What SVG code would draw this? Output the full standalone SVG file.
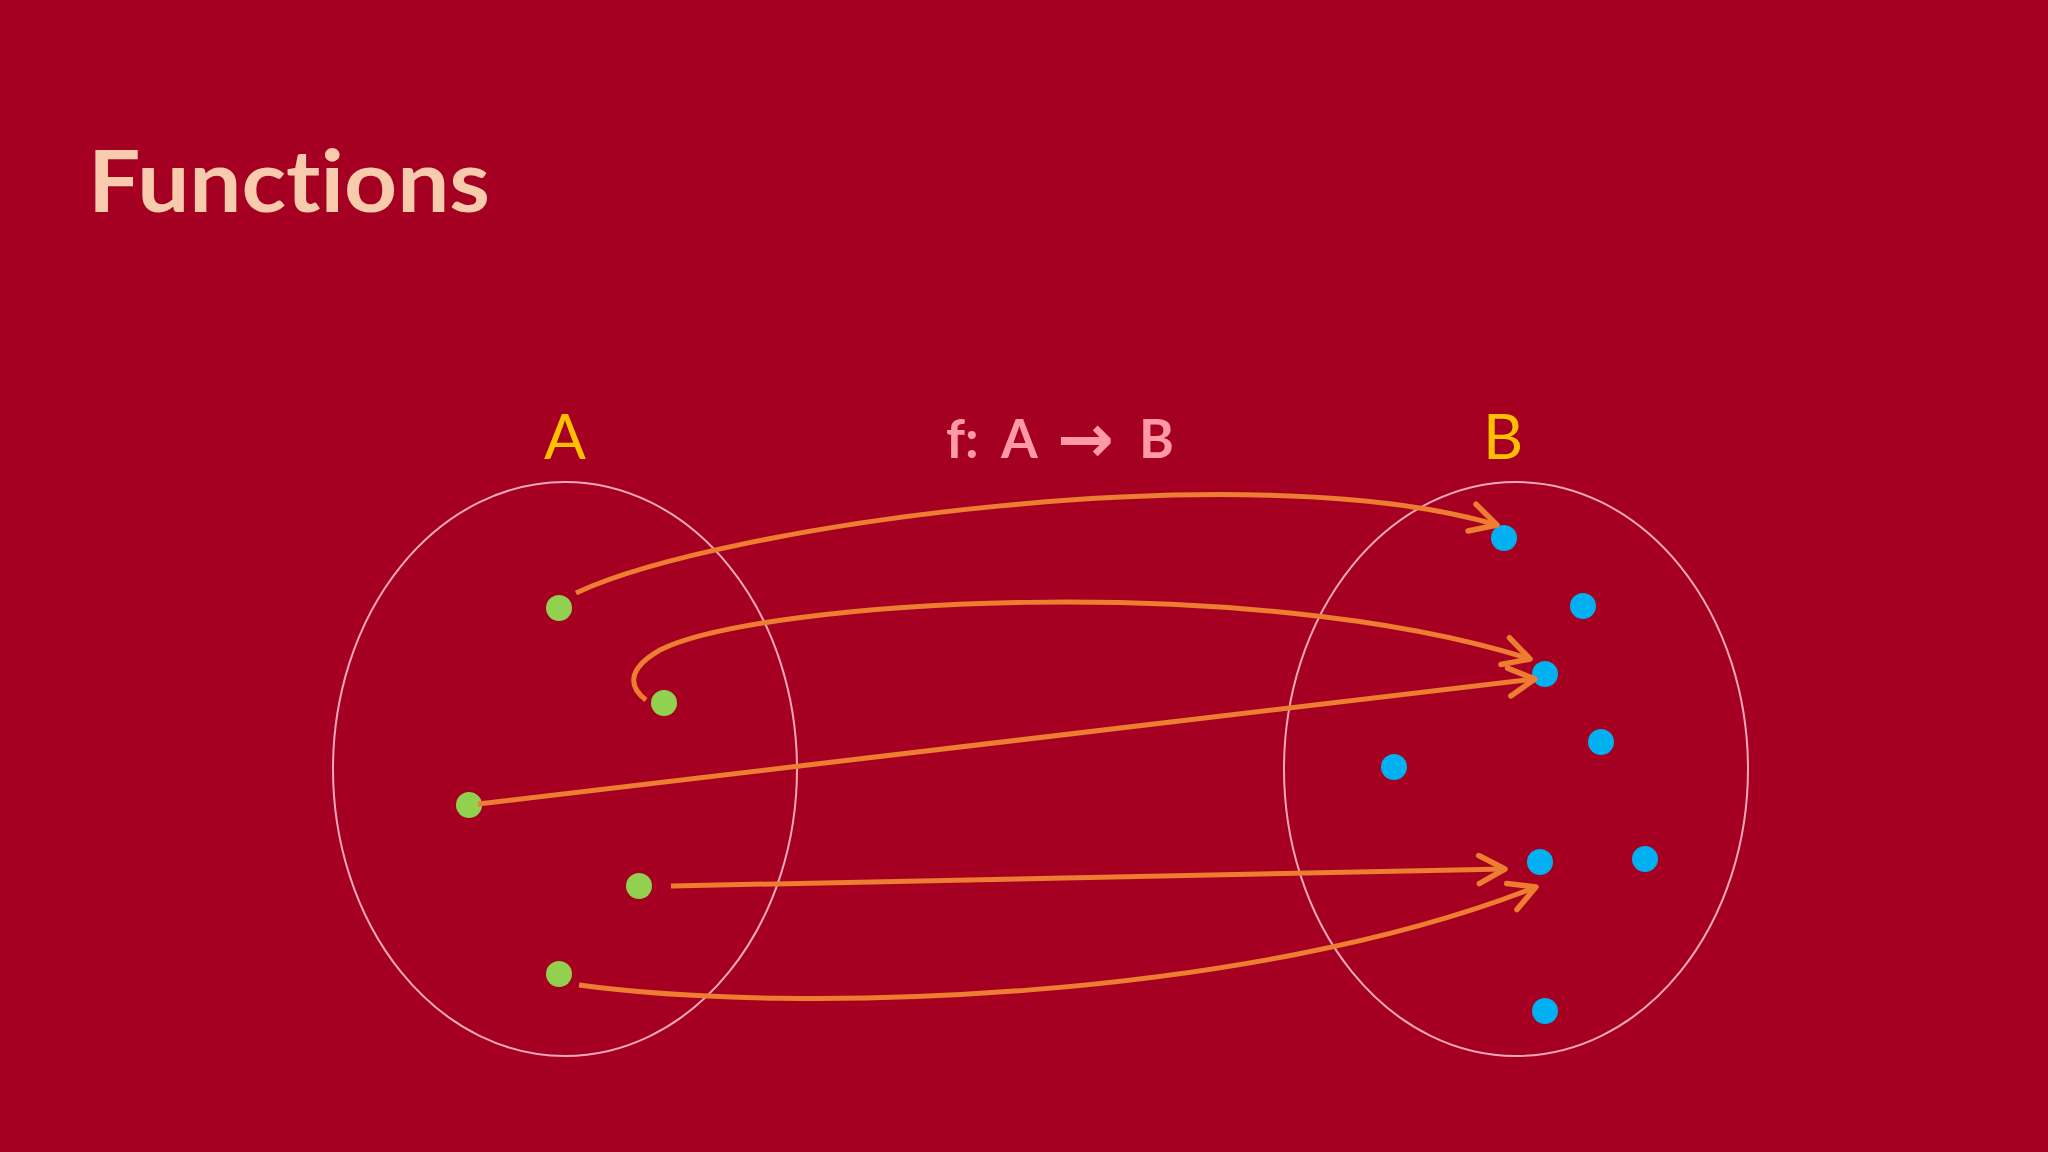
<svg xmlns="http://www.w3.org/2000/svg" width="2048" height="1152" viewBox="0 0 2048 1152">
<style>
.set{fill:none;stroke:#F4A7B9;stroke-width:2}
.a{fill:#92D050}
.b{fill:#00B0F0}
.conn{fill:none;stroke:#ED7D31;stroke-width:5;stroke-linecap:butt}
.lbl{font-family:Lato,"Open Sans","Liberation Sans",sans-serif;fill:#FFC000;font-size:62px;text-anchor:middle}
.title{font-family:Lato,"Open Sans",sans-serif;font-weight:bold;font-size:86px;fill:#F8CBAD;font-variant-ligatures:none;font-feature-settings:"liga" 0}
.fn{font-family:Lato,"Open Sans",sans-serif;font-weight:bold;font-size:53px;fill:#FF99A6}
</style>
<defs>
<marker id="arr" markerUnits="userSpaceOnUse" markerWidth="60" markerHeight="60" viewBox="-40 -30 60 60" refX="0" refY="0" orient="auto" overflow="visible">
<path d="M-26,-14 L0,0 L-26,14" fill="none" stroke="#ED7D31" stroke-width="5.5" stroke-linecap="round" stroke-linejoin="round"/>
</marker>
</defs>
<rect width="2048" height="1152" fill="#A50021"/>
<text class="title" x="88" y="212" textLength="402" lengthAdjust="spacingAndGlyphs">Functions</text>
<text class="fn" y="458"><tspan x="946">f:</tspan><tspan x="1001">A</tspan><tspan x="1057" y="462" font-family="'DejaVu Sans',sans-serif" font-size="68">→</tspan><tspan x="1139" y="458">B</tspan></text>
<g id="setA">
<ellipse class="set" cx="565" cy="769" rx="232" ry="287"/>
<text class="lbl" x="565" y="459">A</text>
</g>
<g id="setB">
<ellipse class="set" cx="1516" cy="769" rx="232" ry="287"/>
<text class="lbl" x="1503" y="459">B</text>
</g>
<g id="a1"><circle class="a" cx="559" cy="608" r="13"/></g>
<g id="a2"><circle class="a" cx="664" cy="703" r="13"/></g>
<g id="a3"><circle class="a" cx="469" cy="805" r="13"/></g>
<g id="a4"><circle class="a" cx="639" cy="886" r="13"/></g>
<g id="a5"><circle class="a" cx="559" cy="974" r="13"/></g>
<g id="b1"><circle class="b" cx="1504" cy="538" r="13"/></g>
<g id="b2"><circle class="b" cx="1583" cy="606" r="13"/></g>
<g id="b3"><circle class="b" cx="1545" cy="674" r="13"/></g>
<g id="b4"><circle class="b" cx="1601" cy="742" r="13"/></g>
<g id="b5"><circle class="b" cx="1394" cy="767" r="13"/></g>
<g id="b6"><circle class="b" cx="1540" cy="862" r="13"/></g>
<g id="b7"><circle class="b" cx="1645" cy="859" r="13"/></g>
<g id="b8"><circle class="b" cx="1545" cy="1011" r="13"/></g>
<g id="connectors">
<path class="conn" marker-end="url(#arr)" d="M576,593 C720,525 1250,452 1497,525"/>
<path class="conn" marker-end="url(#arr)" d="M646,700 C630,688 625,670 660,650 C760,600 1250,570 1530,659"/>
<path class="conn" marker-end="url(#arr)" d="M478,804 L1535,679"/>
<path class="conn" marker-end="url(#arr)" d="M671,886 L1505,869"/>
<path class="conn" marker-end="url(#arr)" d="M579,985 C800,1015 1250,1000 1536,887"/>
</g>
</svg>
